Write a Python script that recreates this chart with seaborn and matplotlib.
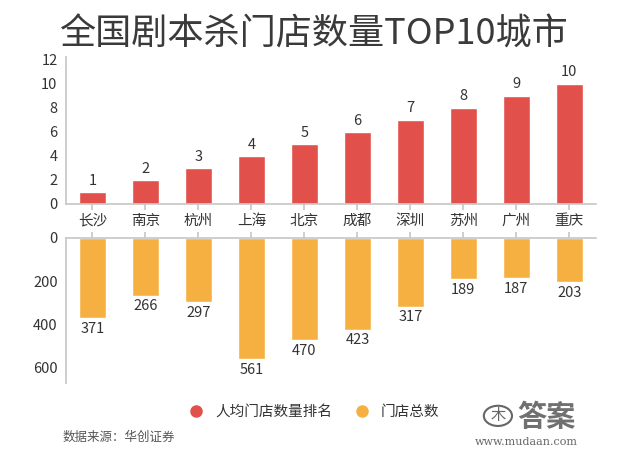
import pandas as pd
import matplotlib.pyplot as plt
import seaborn as sns
from matplotlib.lines import Line2D
from matplotlib.patches import Circle

cities = ['长沙', '南京', '杭州', '上海', '北京', '成都', '深圳', '苏州', '广州', '重庆']
rank = [1, 2, 3, 4, 5, 6, 7, 8, 9, 10]
stores = [371, 266, 297, 561, 470, 423, 317, 189, 187, 203]

red = '#E2504B'
orange = '#F6B041'
txt = '#333333'
axc = '#C8C8C8'

sns.set_theme(style='white')
plt.rcParams['font.family'] = ['Noto Sans CJK SC', 'DejaVu Sans']

df = pd.DataFrame({'city': cities, 'rank': rank, 'stores': stores})

fig = plt.figure(figsize=(6.4, 4.59), dpi=100)
ax1 = fig.add_axes([0.103, 0.5556, 0.828, 0.320])
ax2 = fig.add_axes([0.103, 0.1656, 0.828, 0.316])

sns.barplot(data=df, x='city', y='rank', color=red, width=0.5, saturation=1, ax=ax1)
sns.barplot(data=df, x='city', y='stores', color=orange, width=0.5, saturation=1, ax=ax2)

ax1.set_ylim(0, 12.2)
ax1.set_yticks(range(0, 13, 2))
ax2.set_ylim(670, 0)
ax2.set_yticks([0, 200, 400, 600])

for i, v in enumerate(rank):
    ax1.text(i, v + 0.35, str(v), ha='center', va='bottom', fontsize=10.5, color=txt)
for i, v in enumerate(stores):
    ax2.text(i, v + 18, str(v), ha='center', va='top', fontsize=10.5, color=txt)

for ax in (ax1, ax2):
    ax.set_xlabel('')
    ax.set_ylabel('')
    for s in ('top', 'right'):
        ax.spines[s].set_visible(False)
    ax.spines['left'].set_color(axc)
    ax.spines['bottom'].set_color(axc)
    ax.tick_params(axis='y', length=0, labelsize=10.5, labelcolor=txt, pad=6)
    ax.set_xlim(-0.5, 9.5)

ax1.tick_params(axis='x', bottom=True, length=4, color=axc, labelsize=10.5, labelcolor=txt, pad=3)
ax2.spines['bottom'].set_visible(False)
ax2.spines['top'].set_visible(True)
ax2.spines['top'].set_color(axc)
ax2.xaxis.tick_top()
ax2.tick_params(axis='x', top=True, length=4, color=axc, labeltop=False)

fig.text(0.49, 0.924, '全国剧本杀门店数量TOP10城市', ha='center', va='center',
         fontsize=26, fontweight='medium', color='#3A3A3A')

handles = [Line2D([], [], marker='o', ls='', color=red, markersize=8),
           Line2D([], [], marker='o', ls='', color=orange, markersize=8)]
fig.legend(handles, ['人均门店数量排名', '门店总数'], loc='center', bbox_to_anchor=(0.485, 0.102),
           ncol=2, frameon=False, fontsize=10.5, handletextpad=0.3, columnspacing=1.0,
           labelcolor=txt)

# source + watermark
fig.text(0.097, 0.048, '数据来源：华创证券', ha='left', va='center', fontsize=9, color='#555555')
fig.patches.append(Circle((0.778, 0.094), 0.022, transform=fig.transFigure, fill=False,
                          ec='#666666', lw=1.5))
fig.text(0.778, 0.094, '木', ha='center', va='center', fontsize=11, color='#666666')
fig.text(0.853, 0.092, '答案', ha='center', va='center', fontsize=21, fontweight='bold', color='#707070')
fig.text(0.822, 0.037, 'www.mudaan.com', ha='center', va='center', fontsize=8,
         family='DejaVu Serif', color='#666666')

fig.savefig('out.png', dpi=100, facecolor='white')
